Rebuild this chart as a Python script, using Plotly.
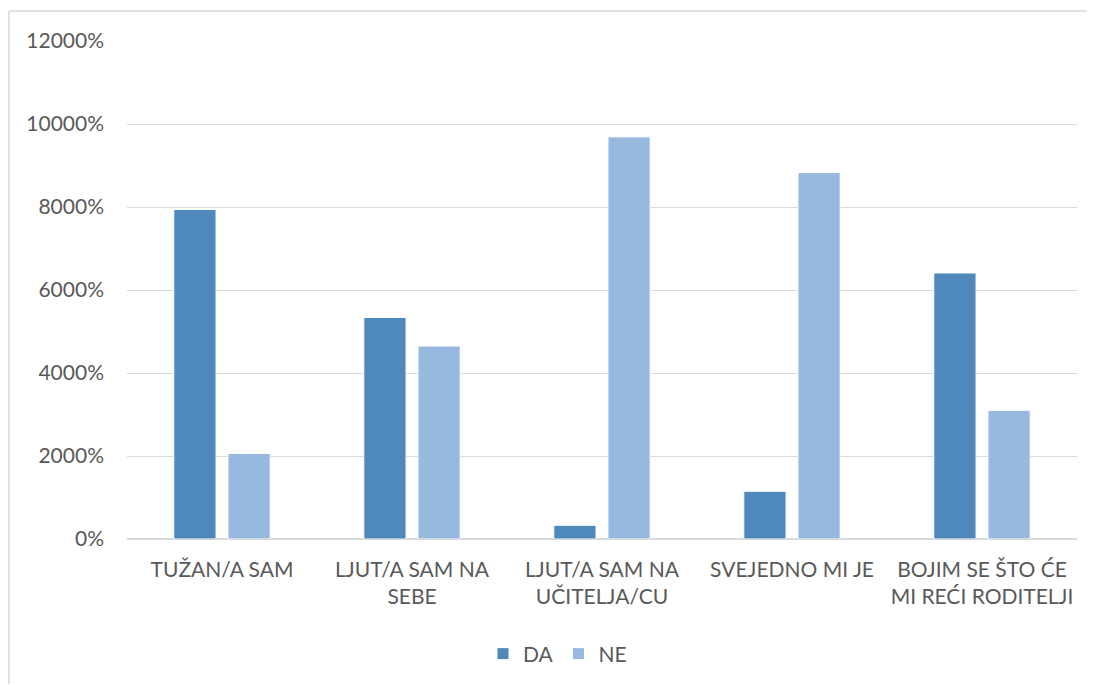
import plotly.graph_objects as go

categories = ["TUŽAN/A SAM", "LJUT/A SAM NA<br>SEBE", "LJUT/A SAM NA<br>UČITELJA/CU",
              "SVEJEDNO MI JE", "BOJIM SE ŠTO ĆE<br>MI REĆI RODITELJI"]
da_values = [7940, 5340, 330, 1150, 6410]
ne_values = [2060, 4650, 9690, 8830, 3100]
y_ticks = [0, 2000, 4000, 6000, 8000, 10000, 12000]
y_tick_labels = [f"{v}%" for v in y_ticks]

FONT = "Lato"
TXT = "#595959"
FS = 21

# page has an 8px body margin; compensate so the plot area lands where the reference has it
W, H = 1087, 677
L, R, T, B = 119, 18, 33, 145
PW = W - L - R   # 950
PH = H - T - B   # 499

fig = go.Figure()
fig.add_trace(go.Bar(name="DA", x=categories, y=da_values,
                     marker=dict(color="#4F88BB", line=dict(color="white", width=1))))
fig.add_trace(go.Bar(name="NE", x=categories, y=ne_values,
                     marker=dict(color="#98B9DF", line=dict(color="white", width=1))))

bx = (1 - L) / PW
fig.update_layout(
    width=W, height=H,
    margin=dict(l=L, r=R, t=T, b=B),
    paper_bgcolor="white", plot_bgcolor="white",
    barmode="group", bargap=0.43, bargroupgap=0.22,
    font=dict(family=FONT, size=FS, color=TXT),
    showlegend=True,
    legend=dict(orientation="h", x=(475 - L) / PW, xanchor="left",
                y=-114 / PH, yanchor="middle",
                font=dict(family=FONT, size=FS, color=TXT), itemwidth=30,
                traceorder="normal"),
    shapes=[
        dict(type="line", xref="paper", yref="paper", x0=bx, x1=(W - L) / PW,
             y0=1 + (T - 3) / PH, y1=1 + (T - 3) / PH, line=dict(color="#D9D9D9", width=1.5)),
        dict(type="line", xref="paper", yref="paper", x0=bx, x1=bx,
             y0=1 + (T - 3) / PH, y1=-B / PH, line=dict(color="#D9D9D9", width=1.5)),
    ],
)
fig.update_yaxes(range=[0, 12000], tickmode="array", tickvals=y_ticks, ticktext=y_tick_labels,
                 showgrid=True, gridcolor="#D9D9D9", gridwidth=1,
                 zeroline=True, zerolinecolor="#D9D9D9", zerolinewidth=2,
                 showline=False, ticks="", ticklabelstandoff=22,
                 tickfont=dict(family=FONT, size=FS, color=TXT))
fig.update_xaxes(showgrid=False, showline=False, ticks="",
                 tickfont=dict(family=FONT, size=FS, color=TXT), ticklabelstandoff=16)

fig.write_html("out.html")
